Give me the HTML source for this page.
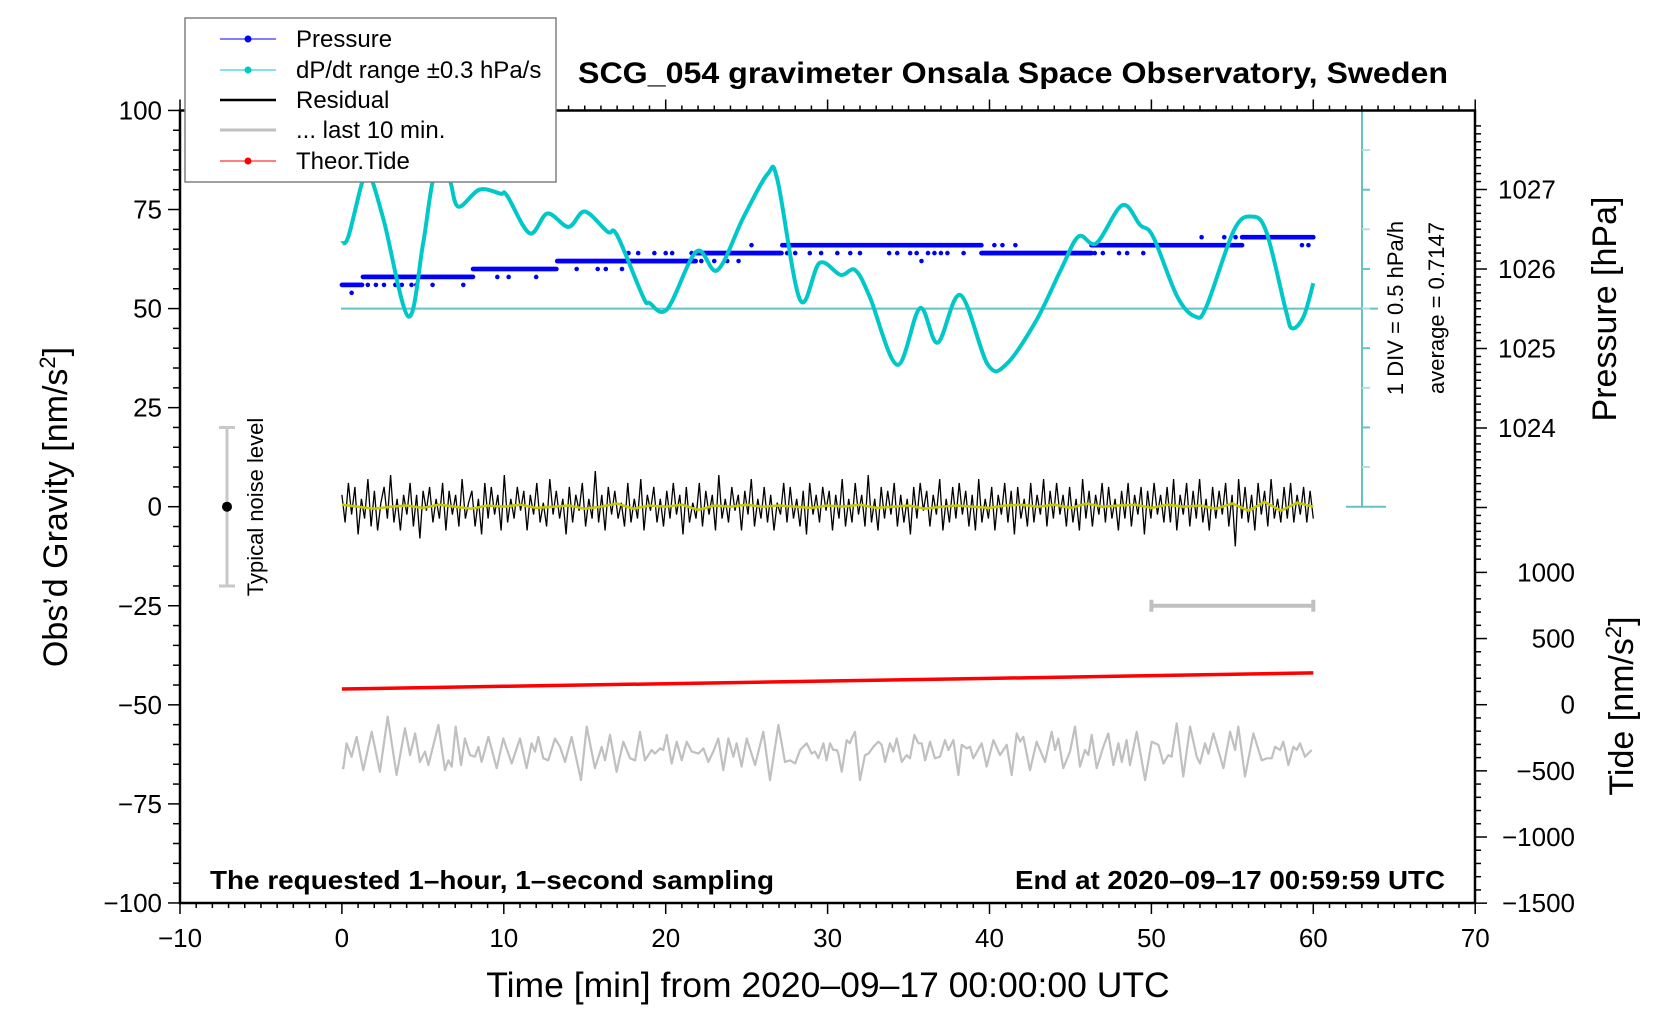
<!DOCTYPE html>
<html><head><meta charset="utf-8"><title>SCG_054 gravimeter</title>
<style>html,body{margin:0;padding:0;background:#fff}svg{display:block}text{font-family:"Liberation Sans",Arial,sans-serif}</style>
</head><body>
<svg id="chart" xmlns="http://www.w3.org/2000/svg" width="1676" height="1020" viewBox="0 0 1676 1020">
<rect x="0" y="0" width="1676" height="1020" fill="#fff"/>
<g id="plot"></g>
<g id="axes"></g>
<text x="1013" y="83" font-size="30" font-weight="bold" text-anchor="middle" textLength="870" lengthAdjust="spacingAndGlyphs">SCG_054 gravimeter Onsala Space Observatory, Sweden</text>
<text x="210" y="889" font-size="26" font-weight="bold" textLength="564" lengthAdjust="spacingAndGlyphs">The requested 1–hour, 1–second sampling</text>
<text x="1445" y="889" font-size="26" font-weight="bold" text-anchor="end" textLength="430" lengthAdjust="spacingAndGlyphs">End at 2020–09–17 00:59:59 UTC</text>
<text x="828" y="997" font-size="35.5" text-anchor="middle">Time [min] from 2020–09–17 00:00:00 UTC</text>
<text transform="translate(67,507) rotate(-90)" font-size="34" text-anchor="middle">Obs’d Gravity [nm/s<tspan font-size="22" dy="-12">2</tspan><tspan dy="12">]</tspan></text>
<text transform="translate(1616,309) rotate(-90)" font-size="34" text-anchor="middle">Pressure [hPa]</text>
<text transform="translate(1633,706) rotate(-90)" font-size="34" text-anchor="middle">Tide [nm/s<tspan font-size="22" dy="-12">2</tspan><tspan dy="12">]</tspan></text>
<text transform="translate(1403,308) rotate(-90)" font-size="22" text-anchor="middle">1 DIV = 0.5 hPa/h</text>
<text transform="translate(1444,308) rotate(-90)" font-size="22" text-anchor="middle">average = 0.7147</text>
<text transform="translate(263,507) rotate(-90)" font-size="22" text-anchor="middle">Typical noise level</text>
<g>
<rect x="185" y="18" width="371" height="164" fill="#fff" stroke="#808080" stroke-width="1.5"/>
<g><line x1="220" y1="39" x2="276" y2="39" stroke="#0000ff" stroke-width="1"/><circle cx="248" cy="39" r="3.5" fill="#0000ff"/><text x="296" y="47" font-size="24">Pressure</text></g>
<g><line x1="220" y1="70" x2="276" y2="70" stroke="#00c8c8" stroke-width="1"/><circle cx="248" cy="70" r="3.5" fill="#00c8c8"/><text x="296" y="78" font-size="24">dP/dt range ±0.3 hPa/s</text></g>
<g><line x1="220" y1="100" x2="276" y2="100" stroke="#000" stroke-width="2.5"/><text x="296" y="108" font-size="24">Residual</text></g>
<g><line x1="220" y1="130" x2="276" y2="130" stroke="#c0c0c0" stroke-width="3"/><text x="296" y="138" font-size="24">... last 10 min.</text></g>
<g><line x1="220" y1="161" x2="276" y2="161" stroke="#ff0000" stroke-width="1"/><circle cx="248" cy="161" r="3.5" fill="#ff0000"/><text x="296" y="169" font-size="24">Theor.Tide</text></g>
</g>
</svg>
<script>
// ---------- data ----------
const cyanT = [0,0.4,1.3,1.7,2.6,4.1,5.0,5.6,6.2,6.7,7.2,8.5,9.8,10.2,11.6,12.7,14.0,15.0,16.4,17.0,18.6,19.0,20.1,21.9,23.2,24.8,26.3,26.9,28.3,29.5,30.8,31.7,32.6,34.3,35.7,36.8,38.2,39.9,41.1,42.9,44.4,45.5,46.6,48.2,49.3,50.1,51.6,52.7,53.4,55.1,56.2,57.1,58.3,58.7,59.4,60];
const cyanV = [66.5,68.2,82.5,84,72,48,66,82,88,82,75.7,80,79,78.5,69,74,70.6,74.5,69.4,68.5,53,51.4,49.9,64.4,59.7,73,84,82.5,52.2,61.5,58.5,59.7,53,35.8,50.1,41.4,53.4,35.8,36.2,47.1,59.7,68.2,66.5,76.1,71.1,68.2,53,48,50.5,69.8,73.2,69.4,49.6,45,48,56.4];
const pressSegStart = [0,1.3,8.1,13.3,21.9,27.2,39.5,46.3,55.6];
const pressSegEnd   = [1.3,8.1,13.3,21.9,27.2,39.5,46.3,55.6,60];
const pressLevel    = [1025.8,1025.9,1026.0,1026.1,1026.2,1026.3,1026.2,1026.3,1026.4];
const pressDotT = [0.6,1.6,2.1,2.6,3.3,3.7,4.3,4.6,5.6,7.5,9.6,10.3,12.0,14.5,15.8,16.3,17.3,17.7,18.3,19.3,20.0,20.4,21.6,22.2,23.0,23.8,24.5,25.3,27.5,28.0,28.9,29.6,30.6,31.4,32.0,33.8,34.3,35.1,35.5,35.8,36.2,36.6,37.0,37.4,38.4,40.3,40.8,41.6,46.5,47.0,48.0,48.5,49.5,53.1,54.5,55.2,59.3,59.7];
const pressDotP = [1025.7,1025.8,1025.8,1025.8,1025.8,1025.8,1025.8,1025.8,1025.8,1025.8,1025.9,1025.9,1025.9,1026.0,1026.0,1026.0,1026.0,1026.2,1026.2,1026.2,1026.2,1026.2,1026.2,1026.1,1026.1,1026.1,1026.1,1026.3,1026.2,1026.2,1026.2,1026.2,1026.2,1026.2,1026.2,1026.2,1026.2,1026.2,1026.2,1026.1,1026.2,1026.2,1026.2,1026.2,1026.2,1026.3,1026.3,1026.3,1026.2,1026.2,1026.2,1026.2,1026.2,1026.4,1026.4,1026.4,1026.3,1026.3];
const residualV = [3,-4,6,-2,5,-7,2,-3,7,-5,4,-6,1,5,-3,8,-4,2,-6,3,
-2,6,-5,3,-8,4,-1,5,-4,2,-3,6,-6,4,-2,3,-5,7,-3,1,
4,-5,2,-7,6,-3,5,-2,3,-6,8,-4,2,-3,5,-1,4,-6,3,-2,
6,-4,1,-5,7,-2,4,-3,2,-7,5,-4,3,-1,6,-5,2,-3,9,-4,
3,-6,5,-2,4,-3,1,-5,6,-4,2,-3,7,-6,3,-1,5,-4,2,-5,
4,-3,6,-2,3,-7,5,-4,1,-3,6,-5,4,-2,3,-6,8,-3,2,-4,
5,-1,3,-6,4,-2,7,-5,2,-3,5,-4,3,-6,1,-2,6,-4,5,-3,
2,-5,4,-7,6,-2,3,-4,5,-1,4,-6,3,-3,7,-5,2,-4,6,-2,
3,-5,8,-4,2,-6,5,-3,4,-2,6,-5,3,-4,2,-7,5,-3,6,-1,
4,-5,3,-2,7,-6,2,-4,5,-3,6,-2,4,-5,3,-6,7,-4,2,-3,
5,-6,3,-2,6,-4,4,-7,5,-3,2,-5,6,-4,3,-2,7,-5,4,-3,
6,-2,3,-5,5,-4,2,-6,7,-3,4,-5,3,-2,6,-4,5,-3,2,-6,
4,-3,6,-5,3,-2,5,-7,4,-3,6,-2,3,-4,5,-4,7,-6,3,-2,
6,-5,4,-3,7,-4,2,-6,5,-3,4,-2,6,-5,3,-10,7,-3,5,-4,
3,-6,6,-2,4,-5,7,-3,2,-4,5,-3,6,-4,3,-2,5,-4,4,-3];
const smoothV = [0.5,0,-0.5,0,0.3,-0.3,0.5,0,-0.5,0.3,0,0.5,-0.3,0,0.3,-0.5,0,0.8,-0.5,0.3,0,0.5,-0.8,0.3,0,0.5,0,0.3,0,-0.3,0.3,0,0.5,-0.3,0,0.3,-0.5,0,0.3,0,-0.3,0.3,0.5,0,0.5,-0.3,0.8,0,0.3,0.5,-0.3,0.5,0,0.3,-0.5,0.8,-1,1.2,-1,1,0];
const tideT = [0,10,20,30,40,50,60];
const tideV = [119,139,159,179,199,220,240];
const greyT = [0,0.09,0.29,0.60,0.91,1.32,1.84,2.35,2.83,3.38,3.90,4.21,4.52,4.82,5.13,5.34,5.96,6.37,6.57,6.78,7.03,7.36,7.60,7.91,8.22,8.43,8.63,9.05,9.56,9.97,10.49,11.00,11.41,11.72,11.93,12.13,12.44,12.75,13.16,13.47,13.78,14.19,14.77,15.12,15.63,16.05,16.25,16.56,16.97,17.38,17.80,18.11,18.41,18.72,19.13,19.34,19.65,19.85,20.06,20.37,20.68,20.99,21.30,21.61,22.02,22.33,22.63,22.94,23.25,23.56,23.87,24.18,24.38,24.69,25.00,25.52,26.03,26.44,26.96,27.37,27.68,27.99,28.30,28.71,29.02,29.22,29.43,29.74,29.94,30.15,30.35,30.56,30.66,30.87,31.18,31.38,31.49,31.69,32.00,32.31,32.52,32.83,33.13,33.34,33.55,33.85,34.06,34.27,34.58,34.88,35.09,35.36,35.61,35.81,36.02,36.33,36.63,36.94,37.25,37.46,37.77,38.08,38.28,38.59,38.80,39.00,39.52,39.83,40.24,40.65,41.06,41.37,41.68,41.89,42.09,42.50,42.91,43.43,43.84,44.05,44.25,44.56,44.97,45.28,45.59,45.90,46.11,46.31,46.62,47.03,47.34,47.65,47.96,48.17,48.47,48.68,49.09,49.61,50.02,50.43,50.74,51.05,51.25,51.56,51.97,52.39,52.80,53.00,53.31,53.52,53.83,54.45,54.86,55.17,55.37,55.78,56.30,56.81,57.12,57.43,57.64,57.95,58.15,58.46,58.77,58.97,59.18,59.49,59.90];
const greyV = [-66,-66,-59.7,-63.1,-58.1,-66.5,-56.8,-66.9,-53.0,-67.7,-55.9,-62.7,-57.2,-64.4,-61.8,-65.2,-55.1,-66.5,-64.0,-65.6,-55.5,-65.2,-58.5,-62.7,-63.1,-60.6,-64.4,-58.1,-66.0,-58.5,-64.8,-58.5,-66.0,-59.7,-61.8,-58.1,-63.5,-64.0,-58.5,-60.6,-64.4,-58.1,-69.0,-55.5,-66.0,-60.6,-64.0,-57.6,-66.9,-59.3,-63.5,-64.0,-56.8,-64.0,-61.4,-62.3,-61.0,-61.4,-57.6,-64.8,-59.3,-64.0,-59.3,-61.8,-62.3,-61.0,-64.4,-61.8,-58.5,-66.5,-58.5,-63.1,-59.7,-65.6,-58.5,-65.2,-56.8,-69.0,-55.1,-64.4,-64.0,-64.8,-61.4,-59.7,-62.3,-61.8,-63.5,-59.7,-64.0,-59.7,-61.4,-61.4,-62.3,-66.9,-58.9,-59.7,-58.5,-56.8,-69.0,-62.7,-62.3,-60.6,-59.3,-60.1,-64.4,-59.7,-61.8,-58.5,-64.4,-62.7,-63.5,-57.6,-59.7,-59.7,-64.0,-59.3,-63.5,-63.1,-58.9,-61.4,-58.9,-67.7,-60.1,-61.0,-60.6,-63.5,-59.7,-65.6,-58.9,-62.7,-60.1,-67.7,-57.2,-59.3,-58.1,-66.5,-59.3,-64.4,-56.8,-61.4,-58.5,-66.0,-61.8,-55.5,-65.6,-61.4,-62.7,-57.6,-66.0,-60.6,-57.2,-65.2,-59.7,-64.4,-58.9,-65.2,-56.8,-69.0,-59.3,-60.1,-64.8,-62.7,-63.1,-54.7,-68.1,-55.5,-63.1,-64.8,-59.7,-62.3,-57.2,-66.0,-56.8,-61.4,-55.5,-68.1,-57.2,-64.0,-63.5,-63.5,-60.6,-61.4,-59.3,-65.2,-60.6,-61.4,-59.7,-63.1,-61.4];

// ---------- scales ----------
const xS = t => 341.9 + t * 16.19;
const yG = g => 506.7 - g * 3.9625;
const yP = p => 269 - (p - 1026) * 79.5;
const yT = v => 704.7 - v * 0.1323;
const NS = 'http://www.w3.org/2000/svg';
const plot = document.getElementById('plot');
const axes = document.getElementById('axes');
function mk(tag, attrs, parent){const e=document.createElementNS(NS,tag);for(const k in attrs)e.setAttribute(k,attrs[k]);parent.appendChild(e);return e;}

let e;
e = mk('line',{x1:341,y1:yG(50),x2:1378,y2:yG(50),stroke:'#66c2c2','stroke-width':2},plot);


e = mk('line',{x1:1362,y1:110.5,x2:1362,y2:yG(0),stroke:'#66c2c2','stroke-width':2},plot);


for(let g=0; g<=100; g+=10){
  const w = (g===0||g===100) ? 16 : 0;
  e = mk('line',{x1:1362-w,y1:yG(g),x2:1370+w,y2:yG(g),stroke:(g%20===0)?'#66c2c2':'#b0e0e0','stroke-width':2},plot);
  
  
}

const pg = mk('g',{fill:'#0000ff'},plot);


for(let i=0;i<pressLevel.length;i++){
  for(let t=pressSegStart[i]; t<=pressSegEnd[i]; t+=0.05){
    e = mk('circle',{cx:xS(t).toFixed(1),cy:yP(pressLevel[i]).toFixed(1),r:2.3},pg);
  }
}
for(let i=0;i<pressDotT.length;i++){
  e = mk('circle',{cx:xS(pressDotT[i]),cy:yP(pressDotP[i]),r:2.3},pg);
  
  
}

function smoothPath(xs, ys){
  let d = 'M'+xs[0].toFixed(1)+','+ys[0].toFixed(1);
  for(let i=0;i<xs.length-1;i++){
    const x0=xs[Math.max(0,i-1)], y0=ys[Math.max(0,i-1)];
    const x1=xs[i], y1=ys[i], x2=xs[i+1], y2=ys[i+1];
    const x3=xs[Math.min(xs.length-1,i+2)], y3=ys[Math.min(xs.length-1,i+2)];
    const c1x=x1+(x2-x0)/6, c1y=y1+(y2-y0)/6, c2x=x2-(x3-x1)/6, c2y=y2-(y3-y1)/6;
    d+=' C'+c1x.toFixed(1)+','+c1y.toFixed(1)+' '+c2x.toFixed(1)+','+c2y.toFixed(1)+' '+x2.toFixed(1)+','+y2.toFixed(1);
  }
  return d;
}

e = mk('path',{d:smoothPath(cyanT.map(xS), cyanV.map(yG)),fill:'none',stroke:'#00c8c8','stroke-width':4,'stroke-linejoin':'round'},plot);



const rStep = 60/(residualV.length-1);
e = mk('polyline',{points:residualV.map((v,i)=>xS(i*rStep).toFixed(1)+','+yG(v).toFixed(1)).join(' '),fill:'none',stroke:'#000','stroke-width':1.3},plot);


const sStep = 60/(smoothV.length-1);
e = mk('polyline',{points:smoothV.map((v,i)=>xS(i*sStep).toFixed(1)+','+yG(v).toFixed(1)).join(' '),fill:'none',stroke:'#c8c800','stroke-width':2.5},plot);



e = mk('polyline',{points:tideT.map((t,i)=>xS(t)+','+yT(tideV[i]).toFixed(1)).join(' '),fill:'none',stroke:'#ff0000','stroke-width':3.5},plot);



e = mk('polyline',{points:greyT.map((t,i)=>xS(t).toFixed(1)+','+yG(greyV[i]).toFixed(1)).join(' '),fill:'none',stroke:'#c0c0c0','stroke-width':2.2,'stroke-linejoin':'round'},plot);



e = mk('path',{d:`M${xS(50)},${yG(-25)} H${xS(60)} M${xS(50)},${yG(-25)-6} V${yG(-25)+6} M${xS(60)},${yG(-25)-6} V${yG(-25)+6}`,stroke:'#c0c0c0','stroke-width':4,fill:'none'},plot);



e = mk('path',{d:`M227,${yG(20)} V${yG(-20)} M219,${yG(20)} H235 M219,${yG(-20)} H235`,stroke:'#c8c8c8','stroke-width':3,fill:'none'},plot);


e = mk('circle',{cx:227,cy:yG(0),r:5,fill:'#000'},plot);



e = mk('rect',{x:180,y:110.5,width:1295,height:792.5,fill:'none',stroke:'#000','stroke-width':2.5},axes);


for(let t=-10;t<=70;t+=1){
  const maj = t%10===0, L = maj?11:5;
  mk('line',{x1:xS(t),y1:903,x2:xS(t),y2:903+L,stroke:'#000','stroke-width':1.5},axes);
  mk('line',{x1:xS(t),y1:110.5,x2:xS(t),y2:110.5-L,stroke:'#000','stroke-width':1.5},axes);
  if(maj){
    e = mk('text',{x:xS(t),y:947,'font-size':26,'text-anchor':'middle'},axes);
    e.textContent = (t<0?'−':'')+Math.abs(t);
    
    
  }
}
for(let g=-100; g<=100; g+=5){
  const maj = g%25===0;
  mk('line',{x1:180-(maj?12:7),y1:yG(g),x2:180,y2:yG(g),stroke:'#000','stroke-width':1.5},axes);
  if(maj){
    e = mk('text',{x:162,y:yG(g)+9,'font-size':26,'text-anchor':'end'},axes);
    e.textContent = (g<0?'−':'')+Math.abs(g);
    
    
  }
}
for(let k=0;k<=52;k++){
  const p = 1022.6 + k*0.1;
  const y = yP(p);
  if(y<111||y>540) continue;
  const maj = Math.abs(p-Math.round(p))<0.01;
  mk('line',{x1:1475,y1:y,x2:1475+(maj?12:6),y2:y,stroke:'#000','stroke-width':1.5},axes);
  if(maj && p>1023.5 && p<1027.5){
    e = mk('text',{x:1498,y:y+9,'font-size':26},axes);
    e.textContent = Math.round(p);
    
    
  }
}
for(let v=-1500; v<=1200; v+=100){
  const y = yT(v);
  if(y<545) continue;
  const maj = v%500===0;
  mk('line',{x1:1475,y1:y,x2:1475+(maj?12:6),y2:y,stroke:'#000','stroke-width':1.5},axes);
  if(maj && v<=1000){
    e = mk('text',{x:1575,y:y+9,'font-size':26,'text-anchor':'end'},axes);
    e.textContent = (v<0?'−':'')+Math.abs(v);
    
    
  }
}
</script>
</body></html>
